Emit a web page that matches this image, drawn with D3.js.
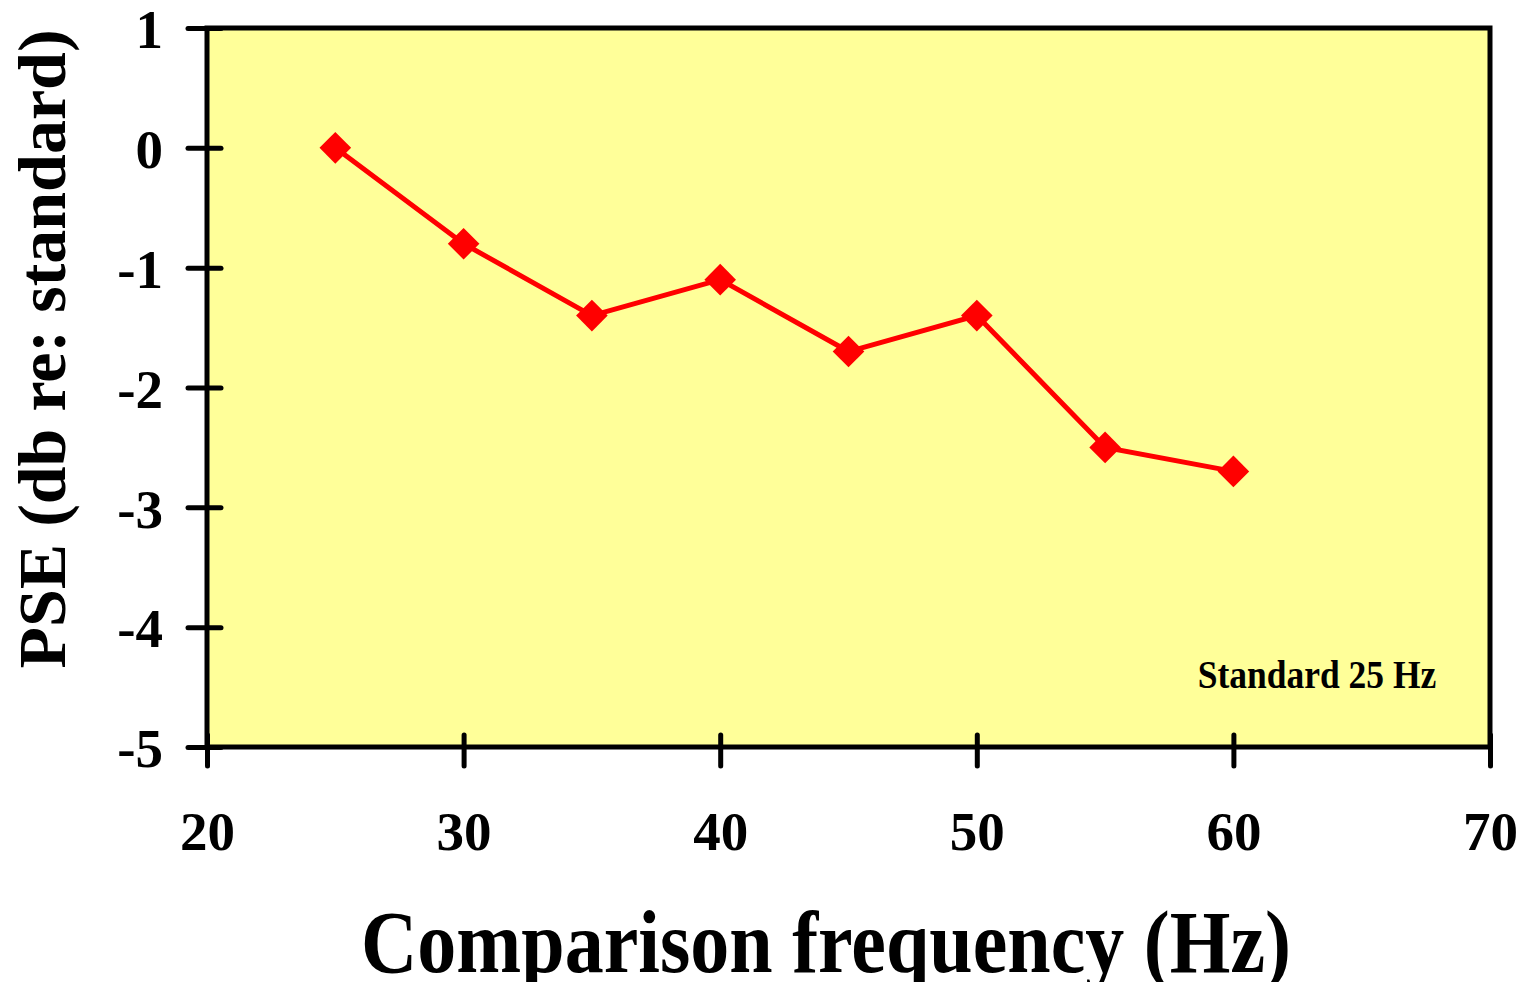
<!DOCTYPE html>
<html><head><meta charset="utf-8">
<script src="https://cdn.jsdelivr.net/npm/d3@7"></script>
<style>body{margin:0;background:#fff}svg{display:block}text{font-family:"Liberation Serif","Times New Roman",serif;font-weight:bold}</style>
</head><body>
<svg id="c" width="1532" height="982"></svg>
<script>
const freqs = [25, 30, 35, 40, 45, 50, 55, 60];
const pse = [0, -0.8, -1.4, -1.1, -1.7, -1.4, -2.5, -2.7];
const xTicks = [20, 30, 40, 50, 60, 70];
const yTicks = [1, 0, -1, -2, -3, -4, -5];

const svg = d3.select("#c");
const L = 207, R = 1490, T = 28, B = 747;
const x = d3.scaleLinear().domain([20, 70]).range([L, R]);
const y = d3.scaleLinear().domain([-5, 1]).range([B, T]);

svg.append("rect").attr("x", L).attr("y", T).attr("width", R - L).attr("height", B - T)
  .attr("fill", "#FFFF99").attr("stroke", "#000").attr("stroke-width", 5);

const ax = svg.append("g").attr("transform", `translate(0,${B})`)
  .call(d3.axisBottom(x).tickValues(xTicks).tickSize(0).tickPadding(0));
ax.select(".domain").remove();
ax.selectAll(".tick line").attr("y1", -12).attr("y2", 19).attr("stroke", "#000").attr("stroke-width", 5).attr("stroke-linecap", "round");
ax.selectAll(".tick text").attr("y", 103).attr("dy", 0).attr("font-size", 55).attr("fill", "#000");

const ay = svg.append("g").attr("transform", `translate(${L},0)`)
  .call(d3.axisLeft(y).tickValues(yTicks).tickSize(0).tickPadding(0).tickFormat(d => String(d)));
ay.select(".domain").remove();
ay.selectAll(".tick line").attr("x1", -19).attr("x2", 14).attr("stroke", "#000").attr("stroke-width", 5).attr("stroke-linecap", "round");
ay.selectAll(".tick text").attr("x", -44).attr("dy", "0.36em").attr("font-size", 55).attr("fill", "#000");

const pts = freqs.map((f, i) => [f, pse[i]]);
svg.append("path").datum(pts)
  .attr("d", d3.line().x(d => x(d[0])).y(d => y(d[1])))
  .attr("fill", "none").attr("stroke", "#FF0000").attr("stroke-width", 5);
svg.append("g").selectAll("path").data(pts).join("path")
  .attr("transform", d => `translate(${x(d[0])},${y(d[1])}) rotate(45)`)
  .attr("d", d3.symbol(d3.symbolSquare, 500))
  .attr("fill", "#FF0000");

svg.append("text").attr("transform", "translate(1317,688) scale(1,1.15)").attr("text-anchor", "middle")
  .attr("font-size", 35.5).text("Standard 25 Hz");

svg.append("text").attr("transform", "translate(826,972) scale(1,1.15)").attr("text-anchor", "middle")
  .attr("font-size", 78).text("Comparison frequency (Hz)");
svg.append("text").attr("transform", "translate(65,349) rotate(-90)").attr("text-anchor", "middle")
  .attr("font-size", 68).text("PSE (db re: standard)");
</script>
</body></html>
